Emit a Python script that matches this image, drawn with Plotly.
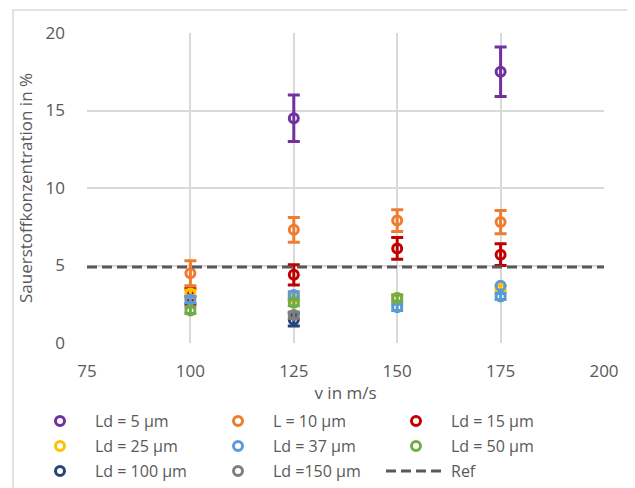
import plotly.graph_objects as go

# Data
names = ["Ld = 5 µm", "L = 10 µm", "Ld = 15 µm", "Ld = 25 µm", "Ld = 37 µm",
         "Ld = 50 µm", "Ld = 100 µm", "Ld =150 µm"]
colors = ["#7030A0", "#ED7D31", "#C00000", "#FFC000", "#5B9BD5", "#70AD47",
          "#264478", "#7F7F7F"]

x_ld5 = [125, 175]
y_ld5 = [14.5, 17.5]
e_ld5 = [1.5, 1.6]

x_ld10 = [100, 125, 150, 175]
y_ld10 = [4.5, 7.3, 7.9, 7.8]
e_ld10 = [0.8, 0.8, 0.7, 0.75]

x_ld15 = [100, 125, 150, 175]
y_ld15 = [3.0, 4.4, 6.1, 5.7]
e_ld15 = [0.5, 0.65, 0.7, 0.7]

x_ld25 = [100, 125, 150, 175]
y_ld25 = [3.2, 2.9, 2.9, 3.5]
e_ld25 = [0.2, 0.2, 0.2, 0.2]

x_ld37 = [100, 125, 150, 175]
y_ld37 = [2.8, 3.1, 2.3, 3.0]
e_ld37 = [0.2, 0.2, 0.2, 0.2]

x_ld37b = [175]
y_ld37b = [3.7]

x_ld50 = [100, 125, 150]
y_ld50 = [2.1, 2.6, 2.9]
e_ld50 = [0.2, 0.2, 0.2]

x_ld100 = [125]
y_ld100 = [1.5]
e_ld100 = [0.4]

x_ld150 = [125]
y_ld150 = [1.8]
e_ld150 = [0.2]

ref_x = [75, 200]
ref_y = [4.9, 4.9]

series = [
    (x_ld5, y_ld5, e_ld5),
    (x_ld10, y_ld10, e_ld10),
    (x_ld15, y_ld15, e_ld15),
    (x_ld25, y_ld25, e_ld25),
    (x_ld37, y_ld37, e_ld37),
    (x_ld50, y_ld50, e_ld50),
    (x_ld100, y_ld100, e_ld100),
    (x_ld150, y_ld150, e_ld150),
]
legend_ids = ["legend", "legend", "legend", "legend2", "legend2", "legend2",
              "legend3", "legend3"]

fig = go.Figure()
for i, ((xs, ys, es), name, col, lg) in enumerate(zip(series, names, colors, legend_ids)):
    fig.add_trace(go.Scatter(
        x=xs, y=ys, mode="markers", name=name, legend=lg,
        marker=dict(symbol="circle-open", size=9, color=col, line=dict(width=3, color=col)),
        error_y=dict(type="data", array=es, visible=True, color=col, thickness=3, width=6),
    ))
    if i == 4:
        fig.add_trace(go.Scatter(
            x=x_ld37b, y=y_ld37b, mode="markers", name=name, showlegend=False, legend=lg,
            marker=dict(symbol="circle-open", size=9, color=col, line=dict(width=3, color=col)),
        ))

fig.add_trace(go.Scatter(
    x=ref_x, y=ref_y, mode="lines", name="Ref", legend="legend3",
    line=dict(color="#595959", width=3, dash="10px,5px"),
))

FS = 17
LFS = 16
W_PLOT = 517
H_PLOT = 310
leg_x = (25 - 87) / W_PLOT


def leg(ypix):
    return dict(orientation="h", x=leg_x, y=(343 - ypix) / H_PLOT, xanchor="left", yanchor="middle",
                entrywidth=103, entrywidthmode="pixels", itemwidth=60,
                font=dict(size=LFS, color="#595959"), bgcolor="rgba(0,0,0,0)")


# page body has an 8px margin: figure is 627x480 so that it ends at 635x488
fig.update_layout(
    width=627, height=480,
    margin=dict(l=79, r=31, t=25, b=145, autoexpand=False),
    paper_bgcolor="white", plot_bgcolor="white",
    font=dict(family="Open Sans", size=FS, color="#595959"),
    xaxis=dict(range=[75, 200], tickvals=[75, 100, 125, 150, 175, 200],
               showgrid=True, gridcolor="#D9D9D9", gridwidth=1.5, zeroline=False,
               showline=False, ticks="", automargin=False, ticklabelstandoff=16,
               title=dict(text="v in m/s", font=dict(size=FS, color="#595959"), standoff=6),
               tickfont=dict(size=FS, color="#595959")),
    yaxis=dict(range=[0, 20], tickvals=[0, 5, 10, 15, 20],
               showgrid=True, gridcolor="#D9D9D9", gridwidth=1.5, zeroline=False,
               showline=False, ticks="", automargin=False, ticklabelstandoff=21,
               title=dict(text="Sauerstoffkonzentration in %", font=dict(size=FS, color="#595959"), standoff=8),
               tickfont=dict(size=FS, color="#595959")),
    legend=leg(421),
    legend2=leg(446),
    legend3=leg(471),
    showlegend=True,
)

fig.add_shape(type="rect", xref="paper", yref="paper",
              x0=(13 - 87) / W_PLOT, x1=(633 - 87) / W_PLOT,
              y0=(343 - 495) / H_PLOT, y1=(343 - 10) / H_PLOT,
              line=dict(color="#D9D9D9", width=1.5), fillcolor="rgba(0,0,0,0)", layer="below")

fig.write_html("out.html")
